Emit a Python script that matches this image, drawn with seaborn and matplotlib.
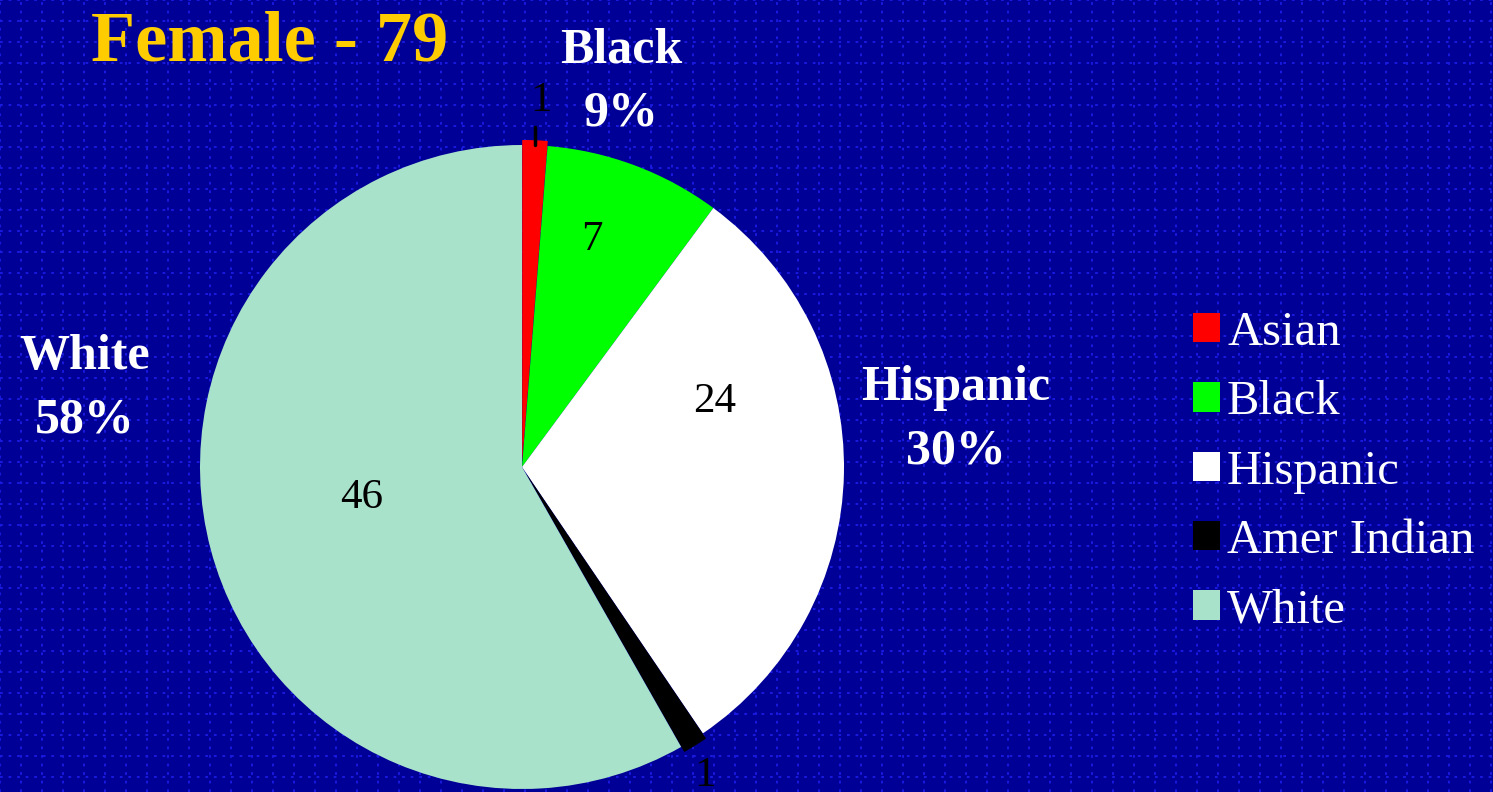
import numpy as np
import matplotlib
matplotlib.use('Agg')
import matplotlib.pyplot as plt
import seaborn as sns
from matplotlib.patches import Patch

# 数据
groups = ['Asian', 'Black', 'Hispanic', 'Amer Indian', 'White']
counts = [1, 7, 24, 1, 46]
colors = ['#FF0000', '#00FF00', '#FFFFFF', '#000000', '#A9E2CB']
title_text = 'Female - 79'

sns.set_style('dark')
plt.rcParams['font.family'] = ['Liberation Serif', 'DejaVu Serif']

BG = '#000096'
W, H = 1493, 792

fig = plt.figure(figsize=(W / 100, H / 100), dpi=100)
fig.patch.set_facecolor(BG)
ax = fig.add_axes([0, 0, 1, 1])
ax.set_facecolor(BG)

# 背景点状网格
ax.set_xticks(np.arange(0, W, 21))
ax.set_yticks(np.arange(H, 0, -21))
ax.grid(True, color='#1A1AE0', linestyle=(0, (1.4, 3)), linewidth=1.4)
ax.set_axisbelow(True)
ax.tick_params(left=False, bottom=False, labelleft=False, labelbottom=False)
for s in ax.spines.values():
    s.set_visible(False)

# 饼图（像素坐标）
cx, cy, r = 522, H - 467, 322
total = sum(counts)
explode = [5, 0, 0, 6, 0]
wedges, _ = ax.pie(counts, colors=colors, startangle=90, counterclock=False,
                   center=(cx, cy), radius=r, explode=explode,
                   wedgeprops=dict(linewidth=0), frame=True)
ax.set_xlim(0, W)
ax.set_ylim(0, H)
ax.set_aspect('equal')

# 扇区内的数字
num_pos = {1: (592, 240), 2: (715, 402), 4: (362, 498)}
for i, (x, y) in num_pos.items():
    ax.text(x, H - y, str(counts[i]), color='black', fontsize=31,
            ha='center', va='center')

# 外部的 "1"
ax.text(541, H - 101, str(counts[0]), color='black', fontsize=31,
        ha='center', va='center')
ax.plot([535, 535], [H - 127, H - 145], color='black', linewidth=2.5)
ax.text(705, H - 776, str(counts[3]), color='black', fontsize=31,
        ha='center', va='center')

# 类别 + 百分比标签
lab_pos = {1: (621, 82), 2: (956, 420), 4: (85, 389)}
for i, (x, y) in lab_pos.items():
    pct = round(counts[i] / total * 100)
    ax.text(x, H - y, f'{groups[i]}\n{pct}%', color='white', fontsize=36,
            fontweight='bold', ha='center', va='center', linespacing=1.5)

# 标题
ax.text(270, H - 43, title_text, color='#FFCC00', fontsize=52,
        fontweight='bold', ha='center', va='center')

# 图例
handles = [Patch(facecolor=c, edgecolor='none', label=g)
           for g, c in zip(groups, colors)]
leg = fig.legend(handles=handles, loc='upper left',
                 bbox_to_anchor=(1193 / W, 1 - 311 / H), frameon=False,
                 fontsize=35, handlelength=0.55, handleheight=0.55,
                 handletextpad=0.15, labelspacing=0.52, borderpad=0,
                 borderaxespad=0)
for t in leg.get_texts():
    t.set_color('white')

fig.savefig('out.png', dpi=100, facecolor=BG)
